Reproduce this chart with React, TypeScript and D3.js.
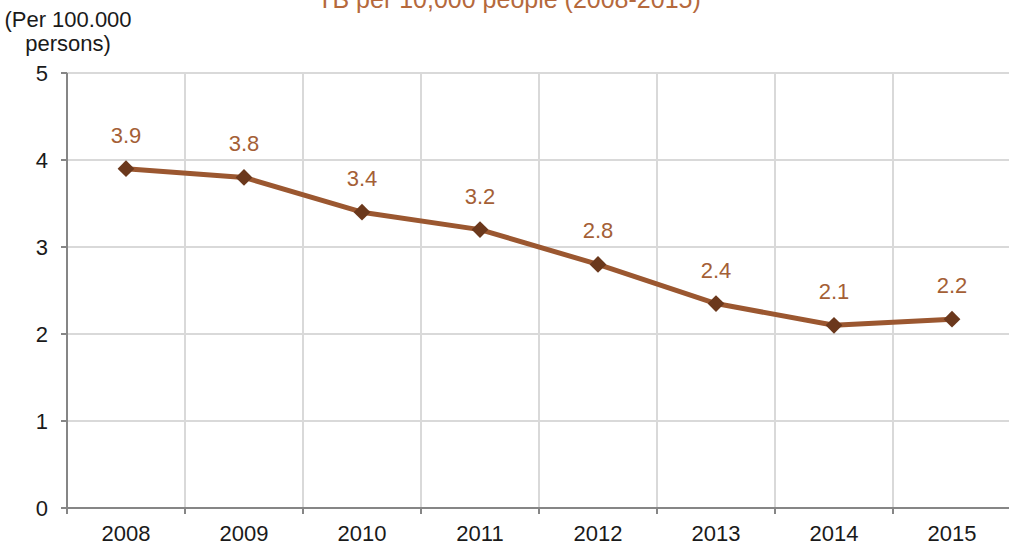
import React from 'react';
import * as d3 from 'd3';

const years = ['2008', '2009', '2010', '2011', '2012', '2013', '2014', '2015'];
const values = [3.9, 3.8, 3.4, 3.2, 2.8, 2.35, 2.1, 2.17];
const valueLabels = ['3.9', '3.8', '3.4', '3.2', '2.8', '2.4', '2.1', '2.2'];
const yTicks = [0, 1, 2, 3, 4, 5];
const titleText = 'TB per 10,000 people (2008-2015)';
const yTitleLines = ['(Per 100.000', 'persons)'];

const W = 1009;
const H = 545;
const FONT = 'Arial, "Liberation Sans", Helvetica, sans-serif';

export default function App() {
  const left = 67;
  const right = 1011;
  const top = 73;
  const bottom = 508;
  const x = d3.scaleBand<string>().domain(years).range([left, right]);
  const y = d3.scaleLinear().domain([0, 5]).range([bottom, top]);
  const bw = x.bandwidth();
  const cx = (yr: string) => (x(yr) as number) + bw / 2;
  const line = d3
    .line<number>()
    .x((_, i) => cx(years[i]))
    .y((d) => y(d));
  const boundaries = years.map((yr) => x(yr) as number).concat([right]);
  const diamond = d3.symbol().type(d3.symbolDiamond2).size(180)();

  return (
    <svg
      width={W}
      height={H}
      style={{ position: 'absolute', left: 0, top: 0, background: '#fff' }}
      fontFamily={FONT}
    >
      {/* gridlines */}
      {yTicks.slice(1).map((t) => (
        <line key={'h' + t} x1={left} x2={right} y1={y(t)} y2={y(t)} stroke="#d9d9d9" strokeWidth={2} />
      ))}
      {boundaries.slice(1).map((b, i) => (
        <line key={'v' + i} x1={b} x2={b} y1={top} y2={bottom} stroke="#d9d9d9" strokeWidth={2} />
      ))}
      {/* axes */}
      <line x1={left} x2={left} y1={top} y2={bottom + 6} stroke="#868686" strokeWidth={2} />
      <line x1={left} x2={right} y1={bottom} y2={bottom} stroke="#868686" strokeWidth={2} />
      {yTicks.map((t) => (
        <line key={'yt' + t} x1={left - 6} x2={left} y1={y(t)} y2={y(t)} stroke="#868686" strokeWidth={2} />
      ))}
      {boundaries.map((b, i) => (
        <line key={'xt' + i} x1={b} x2={b} y1={bottom} y2={bottom + 6} stroke="#868686" strokeWidth={2} />
      ))}
      {/* tick labels */}
      {yTicks.map((t) => (
        <text key={'yl' + t} x={48} y={y(t) + 8} textAnchor="end" fontSize={22} fill="#1a1a1a">
          {t}
        </text>
      ))}
      {years.map((yr) => (
        <text key={'xl' + yr} x={cx(yr)} y={541} textAnchor="middle" fontSize={22} fill="#1a1a1a">
          {yr}
        </text>
      ))}
      {/* y title */}
      {yTitleLines.map((s, i) => (
        <text key={'yt' + i} x={68} y={27 + i * 24} textAnchor="middle" fontSize={22} fill="#1a1a1a">
          {s}
        </text>
      ))}
      {/* title */}
      <text x={509} y={8} textAnchor="middle" fontSize={25} fill="#b5693c">
        {titleText}
      </text>
      {/* series */}
      <path d={line(values) || ''} fill="none" stroke="#9b5730" strokeWidth={5} strokeLinejoin="round" />
      {values.map((v, i) => (
        <path key={'m' + i} d={diamond || ''} transform={`translate(${cx(years[i])},${y(v)})`} fill="#6b381c" />
      ))}
      {values.map((v, i) => (
        <text key={'dl' + i} x={cx(years[i])} y={y(v) - 26} textAnchor="middle" fontSize={22} fill="#a45f36">
          {valueLabels[i]}
        </text>
      ))}
    </svg>
  );
}
